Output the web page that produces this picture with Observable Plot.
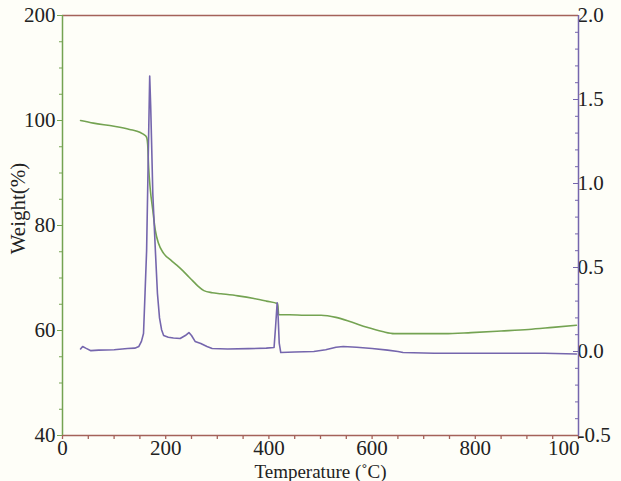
<!DOCTYPE html>
<html>
<head>
<meta charset="utf-8">
<script src="https://cdn.jsdelivr.net/npm/d3@7"></script>
<script src="https://cdn.jsdelivr.net/npm/@observablehq/plot@0.6"></script>
<style>
  html, body { margin: 0; padding: 0; background: #fefef8; }
  #chart { width: 621px; height: 481px; }
</style>
</head>
<body>
<div id="chart"></div>
<script>
// TG curve (left axis, Weight %)
const tgTemp = [35, 60, 100, 130, 151, 158, 163, 165, 167, 170, 175, 180, 186, 196, 210, 222, 233, 245, 252, 262, 274, 290, 307, 340, 371, 395, 417, 419, 440, 470, 501, 530, 560, 590, 620, 643, 660, 700, 740, 792, 850, 903, 950, 996];
const tgWeight = [100, 99.5, 98.9, 98.3, 97.7, 97.3, 96.8, 95.5, 91.0, 87.0, 82.9, 79.0, 76.6, 74.7, 73.4, 72.4, 71.4, 70.2, 69.5, 68.5, 67.6, 67.2, 67.0, 66.6, 66.1, 65.6, 65.1, 63.0, 63.0, 62.9, 62.9, 62.5, 61.6, 60.6, 59.8, 59.4, 59.4, 59.4, 59.4, 59.6, 59.9, 60.2, 60.6, 61.0];

// DTG curve (right axis)
const dtgTemp = [35, 39, 45, 55, 70, 100, 126, 140, 148, 153, 157, 160, 163, 165, 167, 169, 171, 173, 175, 180, 184, 188, 192, 196, 205, 215, 228, 238, 245, 250, 257, 268, 280, 290, 320, 360, 395, 410, 413, 416, 418, 420, 423, 450, 487, 510, 530, 544, 570, 600, 630, 650, 660, 720, 850, 934, 996];
const dtgValue = [0.015, 0.03, 0.02, 0.005, 0.008, 0.01, 0.018, 0.02, 0.03, 0.06, 0.107, 0.35, 0.6, 0.95, 1.3, 1.64, 1.45, 1.2, 0.94, 0.6, 0.345, 0.2, 0.13, 0.095, 0.085, 0.08, 0.077, 0.095, 0.113, 0.095, 0.06, 0.048, 0.03, 0.018, 0.015, 0.017, 0.02, 0.024, 0.15, 0.29, 0.2, 0.05, -0.006, -0.003, 0.0, 0.01, 0.025, 0.03, 0.025, 0.018, 0.008, 0.0, -0.006, -0.01, -0.01, -0.01, -0.015];

// Axis ticks and labels
const xTicks = [0, 200, 400, 600, 800, 1000];
const xTickLabels = ["0", "200", "400", "600", "800", "100"];
const leftTicks = [40, 60, 80, 100, 120];
const leftTickLabels = ["40", "60", "80", "100", "200"];
const rightTicks = [-0.5, 0.0, 0.5, 1.0, 1.5, 2.0];
const rightTickLabels = ["-0.5", "0.0", "0.5", "1.0", "1.5", "2.0"];

const leftDomain = [40, 120];
const rightDomain = [-0.5, 2.0];
const toLeft = v => leftDomain[0] + (v - rightDomain[0]) * (leftDomain[1] - leftDomain[0]) / (rightDomain[1] - rightDomain[0]);

const tg = tgTemp.map((t, i) => ({t, w: tgWeight[i]}));
const dtg = dtgTemp.map((t, i) => ({t, w: toLeft(dtgValue[i])}));

const green = "#74a352";
const purple = "#7566ad";
const frame = "#a4625a";
const font = "'Liberation Serif', 'Times New Roman', serif";

const xMinor = d3.range(0, 1001, 50);
const leftMinor = d3.range(40, 121, 5);
const rightMinor = d3.range(0, 26).map(i => toLeft(+(rightDomain[0] + i * 0.1).toFixed(1)));
const rightMajorPos = rightTicks.map(toLeft);
const xTicksMain = xTicks.slice(0, -1);
const xTickLast = xTicks.slice(-1);

const chart = Plot.plot({
  width: 621,
  height: 481,
  marginLeft: 62,
  marginRight: 43,
  marginTop: 15,
  marginBottom: 46,
  style: {background: "#fefef8", fontFamily: font, fontSize: "20px", color: "#222"},
  x: {type: "linear", domain: [0, 1000]},
  y: {type: "linear", domain: leftDomain},
  marks: [
    // bottom axis
    Plot.axisX({ticks: xMinor, tickFormat: () => "", tickSize: 4, stroke: frame, strokeWidth: 1.3, label: null}),
    Plot.axisX({ticks: xTicksMain, tickFormat: d => xTickLabels[xTicks.indexOf(d)], tickSize: 0, tickPadding: 5, label: null, fontSize: 21}),
    Plot.text(xTickLast, {x: d => d, frameAnchor: "bottom", text: d => xTickLabels[xTicks.indexOf(d)], textAnchor: "end", lineAnchor: "top", dx: 1, dy: 5, fontSize: 21, fill: "#222"}),
    Plot.text(["Temperature (˚C)"], {frameAnchor: "bottom", dy: 42, fontSize: 19, fill: "#222"}),
    // left axis
    Plot.axisY({ticks: leftMinor, tickFormat: () => "", tickSize: 3, stroke: green, label: null}),
    Plot.axisY({ticks: leftTicks, tickFormat: d => leftTickLabels[leftTicks.indexOf(d)], tickSize: 5, stroke: green, tickPadding: 2, fontSize: 21, label: null}),
    Plot.text(["Weight(%)"], {frameAnchor: "left", textAnchor: "middle", dx: -44, dy: -17, rotate: -90, fontSize: 21, fill: "#222"}),
    // right axis
    Plot.axisY({anchor: "right", ticks: rightMinor, tickFormat: () => "", tickSize: -4, stroke: purple, label: null}),
    Plot.axisY({anchor: "right", ticks: rightMajorPos, tickFormat: d => rightTickLabels[rightMajorPos.indexOf(d)], tickSize: -6, tickPadding: 5, stroke: purple, fontSize: 21, label: null}),
    // frame lines
    Plot.ruleY([120], {stroke: frame, strokeWidth: 1.5}),
    Plot.ruleY([40], {stroke: frame, strokeWidth: 1.5}),
    Plot.ruleX([0], {stroke: green, strokeWidth: 1.5}),
    Plot.ruleX([1000], {stroke: purple, strokeWidth: 1.5}),
    // curves
    Plot.line(tg, {x: "t", y: "w", stroke: green, strokeWidth: 1.6, curve: "monotone-x"}),
    Plot.line(dtg, {x: "t", y: "w", stroke: purple, strokeWidth: 1.6})
  ]
});
document.getElementById("chart").appendChild(chart);
</script>
</body>
</html>
